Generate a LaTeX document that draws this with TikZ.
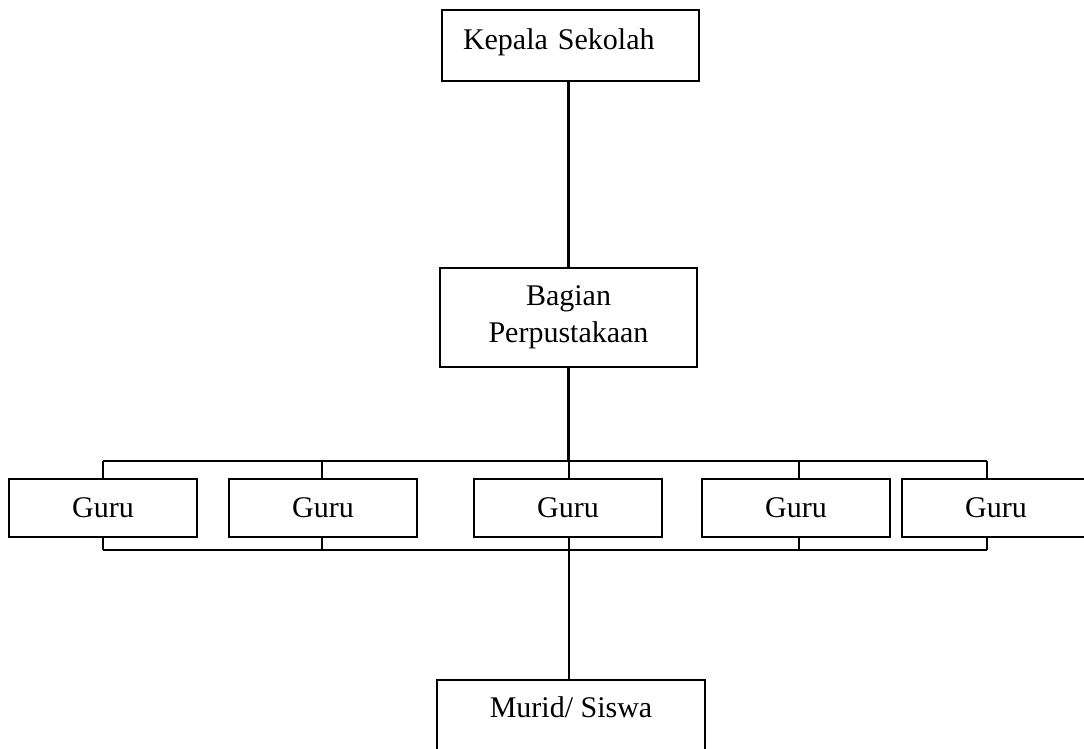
\documentclass[tikz,border=0pt]{standalone}
\usepackage{fontspec}
\setmainfont{Liberation Serif}
\usetikzlibrary{positioning}

\tikzset{
  jabatan/.style={draw, line width=2.2pt, fill=white, inner sep=0pt, align=center,
    font=\fontsize{30}{37}\selectfont},
  guru/.style={jabatan, minimum width=188pt, minimum height=58pt},
  garis/.style={line width=2.2pt}
}

\begin{document}
\begin{tikzpicture}[x=1pt,y=-1pt]
        \clip (0,0) rectangle (1084,748);
        \fill[white] (0,0) rectangle (1084,748);
        \node[jabatan, text width=215pt, inner xsep=21pt, align=left, text height=39pt, text depth=32pt, anchor=base] (kepala) at (570.5,49) {Kepala Sekolah};
        \node[jabatan, minimum width=257pt, minimum height=99pt] (bagian) at (568.5,317.5) {Bagian\\Perpustakaan};
        \node[jabatan, minimum width=268pt, text height=37pt, text depth=53pt, anchor=base] (murid) at (571,717) {Murid/ Siswa};
        \foreach \nama/\x/\s in {g1/103/103, g2/323/322, g3/568/569, g4/796/799, g5/996/987} {
            \node[guru] (\nama) at (\x,508) {Guru};
            \coordinate (atas-\nama) at (\s,461);
            \coordinate (bawah-\nama) at (\s,550);
            \draw[garis] (atas-\nama) -- (atas-\nama |- \nama.north);
            \draw[garis] (bawah-\nama) -- (bawah-\nama |- \nama.south);
          }
        \draw[garis] (atas-g1) -- (atas-g5);
        \draw[garis] (bawah-g1) -- (bawah-g5);
        \draw[garis] (bagian.north |- kepala.south) -- (bagian.north);
        \draw[garis] (bagian.south) -- (bagian.south |- atas-g3);
        \draw[garis] (bawah-g3) -- (bawah-g3 |- murid.north);
      \end{tikzpicture}
\end{document}
